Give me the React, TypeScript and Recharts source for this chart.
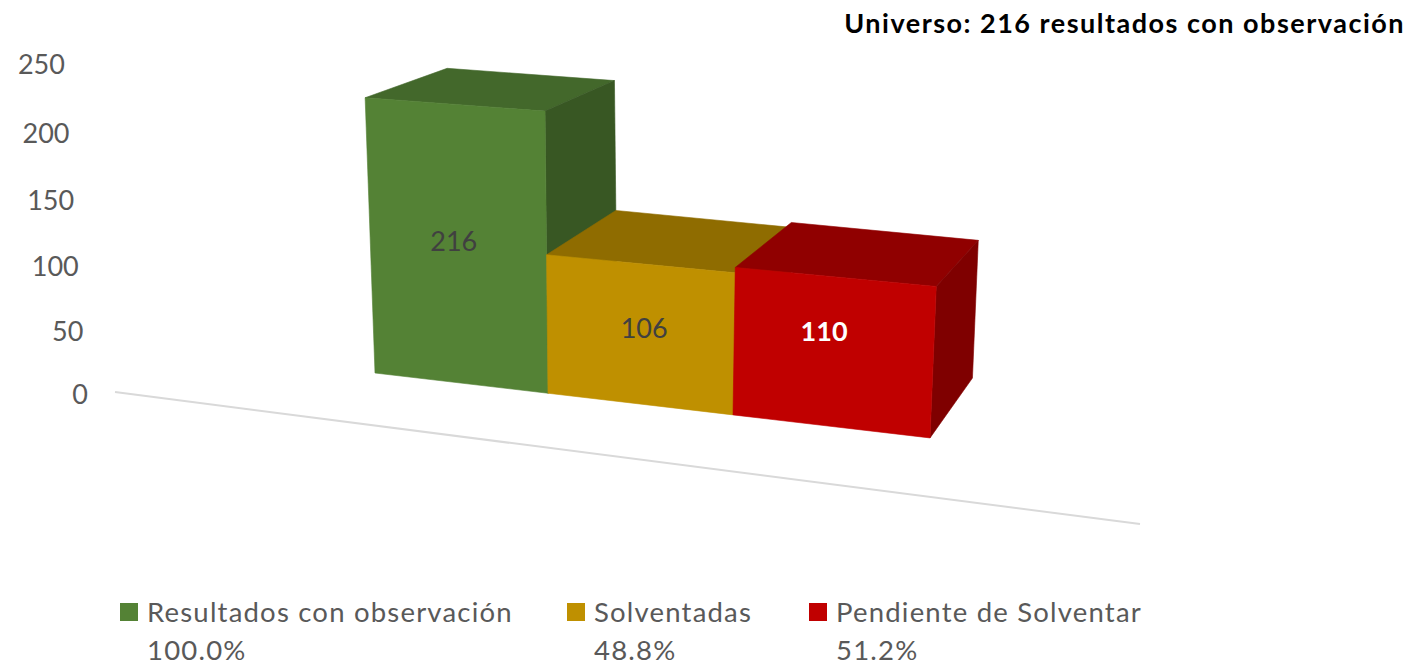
import { Bar, BarChart, LabelList, Legend, ReferenceLine, XAxis, YAxis } from 'recharts';

const categories = ['Resultados con observación', 'Solventadas', 'Pendiente de Solventar'];
const values = [216, 106, 110];
const shares = ['100.0%', '48.8%', '51.2%'];
const yTicks = [0, 50, 100, 150, 200, 250];

const frontColors = ['#548235', '#bf9000', '#c00000'];
const topColors = ['#43682b', '#8f6c00', '#900000'];
const sideColors = ['#385723', '#7f6000', '#7f0000'];
const labelColors = ['#404040', '#404040', '#ffffff'];
const labelNudge = [[-3, -3], [5, -6], [-8, -21]];
const legendLeft = [120, 567, 809];

const rows = categories.map((name, i) => ({ name, value: values[i] }));

const FONT = 'Lato, sans-serif';
const GREY = '#595959';

// fake 3D: the flat bar rectangles from recharts get pushed through this
const ORIGIN_X = 375;
const BAND = 185;
const VANISH_X = 622;

function warpX(px: number) {
  const u = (px - ORIGIN_X) / BAND;
  return ORIGIN_X + 167 * u + 6 * u * u;
}

function project(px: number, h: number, base: number) {
  const fx = warpX(px);
  const grow = 1 + (fx - VANISH_X) * 0.00014;
  return {
    x: fx + h * 0.00014 * (fx - VANISH_X),
    y: base - 20 + 0.117 * (fx - ORIGIN_X) - h * grow,
  };
}

function toBack(p: { x: number; y: number }, h: number) {
  return {
    x: p.x + 82 - (p.x - 365) * 0.07,
    y: p.y - (56.5 - 0.095 * h + 0.006 * (p.x - 365)),
  };
}

const pts = (list: { x: number; y: number }[]) => list.map((p) => `${p.x},${p.y}`).join(' ');

function Face({ list, color }: { list: { x: number; y: number }[]; color: string }) {
  return <polygon points={pts(list)} fill={color} stroke={color} strokeWidth={0.6} />;
}

function Box3D(props: any) {
  const { x, y, width, height, index } = props;
  const base = y + height;
  const fl = project(x, 0, base);
  const fr = project(x + width, 0, base);
  const tl = project(x, height, base);
  const tr = project(x + width, height, base);
  const btl = toBack(tl, height);
  const btr = toBack(tr, height);
  const bbr = toBack(fr, 0);
  return (
    <g>
      <Face list={[tl, btl, btr, tr]} color={topColors[index]} />
      <Face list={[tr, btr, bbr, fr]} color={sideColors[index]} />
      <Face list={[tl, tr, fr, fl]} color={frontColors[index]} />
    </g>
  );
}

function BarLabel(props: any) {
  const { x, y, width, height, value, index } = props;
  const base = y + height;
  const c = project(x + width / 2, height / 2, base);
  return (
    <text
      x={c.x + labelNudge[index][0]}
      y={c.y + labelNudge[index][1]}
      textAnchor='middle'
      dominantBaseline='central'
      fontFamily={FONT}
      fontSize={27}
      fontWeight={index === 2 ? 700 : 400}
      fill={labelColors[index]}
    >
      {value}
    </text>
  );
}

// the tick column leans and bows a little in the original
function BowedTick(props: any) {
  const { x, y, payload } = props;
  const h = 393 - y;
  return (
    <text
      x={x - h * 0.07}
      y={y + h * (330 - h) * 0.000184}
      textAnchor='end'
      dominantBaseline='central'
      fontFamily={FONT}
      fontSize={27}
      fill={GREY}
    >
      {payload.value}
    </text>
  );
}

function FloorLine(props: any) {
  const { x1, y1, x2, y2 } = props;
  return <line x1={x1} y1={y1 - 1} x2={x2} y2={y2 + 131} stroke='#d9d9d9' strokeWidth={2} />;
}

function LegendRow() {
  return (
    <div style={{ position: 'relative', width: 1419, height: 70, fontFamily: FONT, fontSize: 27.5, color: GREY, letterSpacing: 1.2 }}>
      {categories.map((name, i) => (
        <div key={name} style={{ position: 'absolute', left: legendLeft[i], top: 0, whiteSpace: 'nowrap' }}>
          <span style={{ position: 'absolute', left: 0, top: 10, width: 18, height: 18, background: frontColors[i] }} />
          <div style={{ marginLeft: 27, lineHeight: '38px' }}>{name}</div>
          <div style={{ marginLeft: 27, marginTop: 7, lineHeight: '24px' }}>{shares[i]}</div>
        </div>
      ))}
    </div>
  );
}

export default function App() {
  return (
    <div style={{ position: 'absolute', left: 0, top: 0, width: 1419, height: 663, background: '#fff', overflow: 'hidden' }}>
      <BarChart
        width={1419}
        height={663}
        data={rows}
        barCategoryGap={0}
        margin={{ top: 63, right: 279, bottom: 200, left: 0 }}
      >
        <XAxis dataKey='name' tick={false} axisLine={false} tickLine={false} height={0} padding={{ left: 260, right: 210 }} />
        <YAxis
          width={115}
          domain={[0, 250]}
          ticks={yTicks}
          axisLine={false}
          tickLine={false}
          tick={<BowedTick />}
          tickMargin={21}
        />
        <ReferenceLine y={0} shape={<FloorLine />} />
        <Bar dataKey='value' shape={<Box3D />} isAnimationActive={false}>
          <LabelList dataKey='value' content={<BarLabel />} />
        </Bar>
        <Legend
          verticalAlign='bottom'
          height={70}
          content={<LegendRow />}
          wrapperStyle={{ left: 0, bottom: 0, width: 1419 }}
        />
      </BarChart>
      <div
        style={{
          position: 'absolute',
          right: 14,
          top: 6,
          fontFamily: FONT,
          fontWeight: 700,
          fontSize: 27,
          letterSpacing: 1.5,
          color: '#000',
          whiteSpace: 'nowrap',
        }}
      >
        Universo: 216 resultados con observación
      </div>
    </div>
  );
}
